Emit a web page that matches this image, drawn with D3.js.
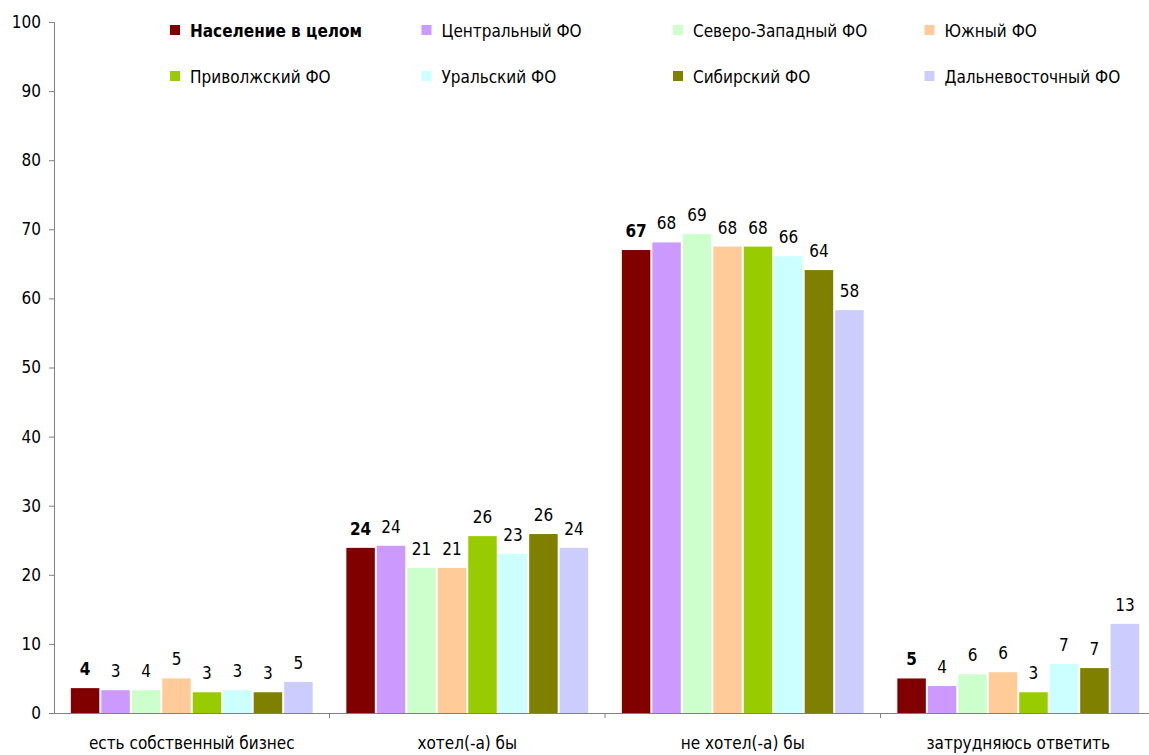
<!DOCTYPE html>
<html><head><meta charset="utf-8">
<script src="https://cdn.jsdelivr.net/npm/d3@7"></script>
<style>
body{margin:0;background:#fff;}
svg text{font-family:"Liberation Sans Narrow","DejaVu Sans Condensed",sans-serif;fill:#000;}
</style></head>
<body><svg id="c" width="1149" height="755"></svg>
<script>
const categories = ["есть собственный бизнес","хотел(-а) бы","не хотел(-а) бы","затрудняюсь ответить"];
const seriesNames = ["Население в целом","Центральный ФО","Северо-Западный ФО","Южный ФО","Приволжский ФО","Уральский ФО","Сибирский ФО","Дальневосточный ФО"];
const seriesColors = ["#800000","#CC99FF","#CCFFCC","#FFCC99","#99CC00","#CCFFFF","#808000","#CCCCFF"];
// values per series across categories
const vTotal   = [3.6, 23.9, 67.0, 5.0];
const vCentral = [3.3, 24.2, 68.1, 3.9];
const vNW      = [3.3, 21.0, 69.3, 5.6];
const vSouth   = [5.0, 21.0, 67.5, 5.9];
const vVolga   = [3.0, 25.6, 67.5, 3.0];
const vUral    = [3.3, 23.0, 66.1, 7.1];
const vSiberia = [3.0, 25.9, 64.1, 6.5];
const vFarEast = [4.5, 23.9, 58.3, 12.9];
// printed labels
const lTotal   = [4, 24, 67, 5];
const lCentral = [3, 24, 68, 4];
const lNW      = [4, 21, 69, 6];
const lSouth   = [5, 21, 68, 6];
const lVolga   = [3, 26, 68, 3];
const lUral    = [3, 23, 66, 7];
const lSiberia = [3, 26, 64, 7];
const lFarEast = [5, 24, 58, 13];
const yTicks = [0,10,20,30,40,50,60,70,80,90,100];

const values = [vTotal,vCentral,vNW,vSouth,vVolga,vUral,vSiberia,vFarEast];
const labels = [lTotal,lCentral,lNW,lSouth,lVolga,lUral,lSiberia,lFarEast];

(function(){
const svg = d3.select("#c");
const mLeft = 54, mRight = 1156, mTop = 22, mBottom = 713;
const y = d3.scaleLinear().domain([0,100]).range([mBottom, mTop]);
const x0 = d3.scaleBand().domain(categories).range([mLeft,mRight]).paddingInner(0).paddingOuter(0);
const x1 = d3.scaleBand().domain(d3.range(8)).range([0, x0.bandwidth()]).paddingOuter(0.52).paddingInner(0);

const yAxis = d3.axisLeft(y).tickValues(yTicks).tickSize(5).tickPadding(8).tickFormat(d3.format("d"));
const gy = svg.append("g").attr("transform",`translate(${mLeft},0)`).call(yAxis);
gy.select(".domain").attr("stroke","#808080");
gy.selectAll(".tick line").attr("stroke","#808080");
gy.selectAll(".tick text").attr("font-size",17);

categories.forEach((c,ci)=>{
  const g = svg.append("g").attr("transform",`translate(${x0(c)},0)`);
  values.forEach((vals,si)=>{
    g.append("rect")
      .attr("x", x1(si)+1).attr("width", x1.bandwidth()-2)
      .attr("y", y(vals[ci])).attr("height", y(0)-y(vals[ci]))
      .attr("fill", seriesColors[si]);
    g.append("text")
      .attr("x", x1(si)+x1.bandwidth()/2).attr("y", y(vals[ci])-13)
      .attr("text-anchor","middle").attr("font-size",17)
      .attr("font-weight", si===0?"bold":"normal")
      .text(labels[si][ci]);
  });
});

const xAxis = d3.axisBottom(x0).tickSize(0).tickFormat(d=>d);
const gx = svg.append("g").attr("transform",`translate(0,${mBottom})`).call(xAxis);
gx.select(".domain").attr("stroke","#808080");
gx.selectAll(".tick text").attr("font-size",17).attr("dy",0).attr("y",36);
const bounds = categories.map(c=>x0(c)).slice(1).concat([mRight]);
gx.selectAll(".bt").data(bounds).enter().append("line")
  .attr("x1",d=>d).attr("x2",d=>d).attr("y1",0).attr("y2",5).attr("stroke","#808080");

const leg = svg.append("g");
seriesNames.forEach((n,i)=>{
  const col = i%4, row = Math.floor(i/4);
  const lx = 170 + col*251.5, ly = 31 + row*46;
  leg.append("rect").attr("x",lx).attr("y",ly-6).attr("width",10).attr("height",10).attr("fill",seriesColors[i]);
  leg.append("text").attr("x",lx+20).attr("y",ly).attr("dy","0.35em")
    .attr("font-size",17).attr("font-weight",i===0?"bold":"normal").text(n);
});
})();
</script></body></html>
